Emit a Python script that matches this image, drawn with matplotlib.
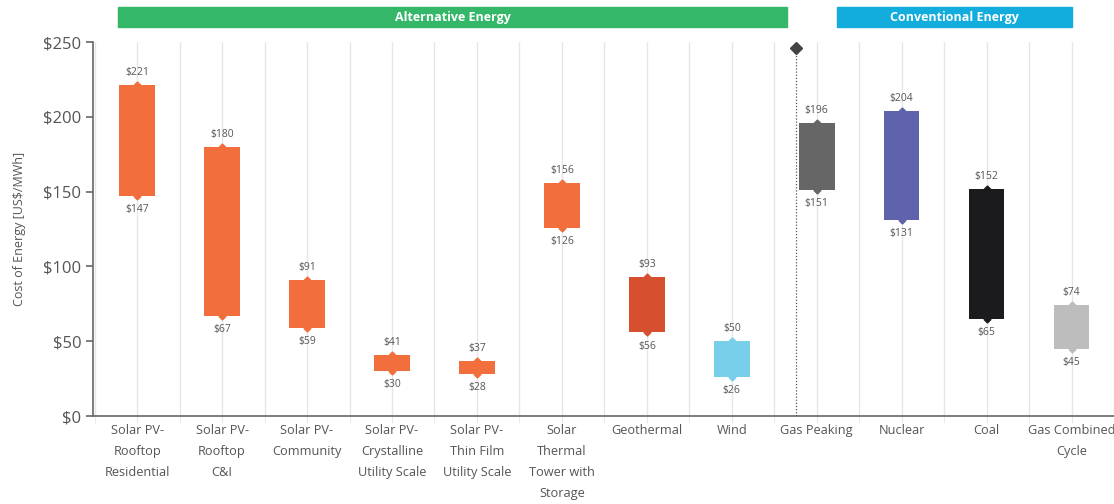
import matplotlib.pyplot as plt
import matplotlib.transforms as mtransforms
from matplotlib.patches import Rectangle
import numpy as np

plt.rcParams['font.family'] = ['Open Sans', 'DejaVu Sans']

categories = ["Solar PV-\nRooftop\nResidential", "Solar PV-\nRooftop\nC&I", "Solar PV-\nCommunity",
              "Solar PV-\nCrystalline\nUtility Scale", "Solar PV-\nThin Film\nUtility Scale",
              "Solar\nThermal\nTower with\nStorage", "Geothermal", "Wind",
              "Gas Peaking", "Nuclear", "Coal", "Gas Combined\nCycle"]
low = [147, 67, 59, 30, 28, 126, 56, 26, 151, 131, 65, 45]
high = [221, 180, 91, 41, 37, 156, 93, 50, 196, 204, 152, 74]
colors = ["#f26e3d"] * 6 + ["#d6502f", "#78cfea", "#666666", "#5f63ab", "#1b1b1d", "#bdbdbd"]

groups = ["Alternative Energy", "Conventional Energy"]
group_span = [(-0.22, 7.65), (8.24, 11.0)]
group_colors = ["#35b76a", "#12acdd"]

fig = plt.figure(figsize=(11.14, 5.04), dpi=100)
ax = fig.add_axes([93 / 1114, 1 - 416 / 504, 1 - 93 / 1114, (416 - 42) / 504])

x = np.arange(len(categories))
ax.bar(x, np.array(high) - np.array(low), bottom=low, width=0.42, color=colors, zorder=3)
for xi, lo, hi, c in zip(x, low, high, colors):
    ax.plot([xi, xi], [lo, hi], ls="none", marker="D", ms=3.5, color=c, zorder=3)
    ax.annotate(f"${hi}", (xi, hi), xytext=(0, 5), textcoords="offset points",
                ha="center", va="bottom", fontsize=7.5, color="#555555")
    ax.annotate(f"${lo}", (xi, lo), xytext=(0, -6), textcoords="offset points",
                ha="center", va="top", fontsize=7.5, color="#555555")

# divider between groups
ax.plot([7.76, 7.76], [0, 246], ls=(0, (1, 1.5)), lw=0.9, color="#555555", zorder=4)
ax.plot([7.76], [246], marker="D", ms=6, color="#444444", zorder=4, clip_on=False)

# group banners
trans = mtransforms.blended_transform_factory(ax.transData, fig.transFigure)
for name, (x0, x1), gc in zip(groups, group_span, group_colors):
    ax.add_patch(Rectangle((x0, 1 - 27 / 504), x1 - x0, 20 / 504, transform=trans,
                           color=gc, clip_on=False))
    ax.text((x0 + x1) / 2, 1 - 17 / 504, name, transform=trans, ha="center", va="center",
            color="white", fontsize=9, fontweight="bold")

ax.set_xlim(-0.52, 11.5)
ax.set_ylim(0, 250)
ax.set_yticks(range(0, 251, 50))
ax.set_yticklabels([f"${v}" for v in range(0, 251, 50)], fontsize=12, color="#555555")
ax.set_xticks(x)
ax.set_xticklabels(categories, fontsize=9.2, color="#555555", linespacing=1.8, va="top")
ax.set_xticks(np.arange(-0.5, 11.6, 1), minor=True)
ax.tick_params(axis="x", which="both", length=5, color="#e6e6e6", pad=1)
ax.tick_params(axis="y", length=5, color="#666666", width=1.2)
ax.grid(axis="x", which="both", color="#e6e6e6", lw=1, zorder=0)
ax.set_ylabel("Cost of Energy [US$/MWh]", fontsize=9, color="#555555", labelpad=12)

for s in ["top", "right"]:
    ax.spines[s].set_visible(False)
ax.spines["left"].set_color("#666666")
ax.spines["left"].set_linewidth(1.2)
ax.spines["bottom"].set_color("#666666")
ax.spines["bottom"].set_linewidth(1.2)

fig.savefig("out.png", dpi=100)
